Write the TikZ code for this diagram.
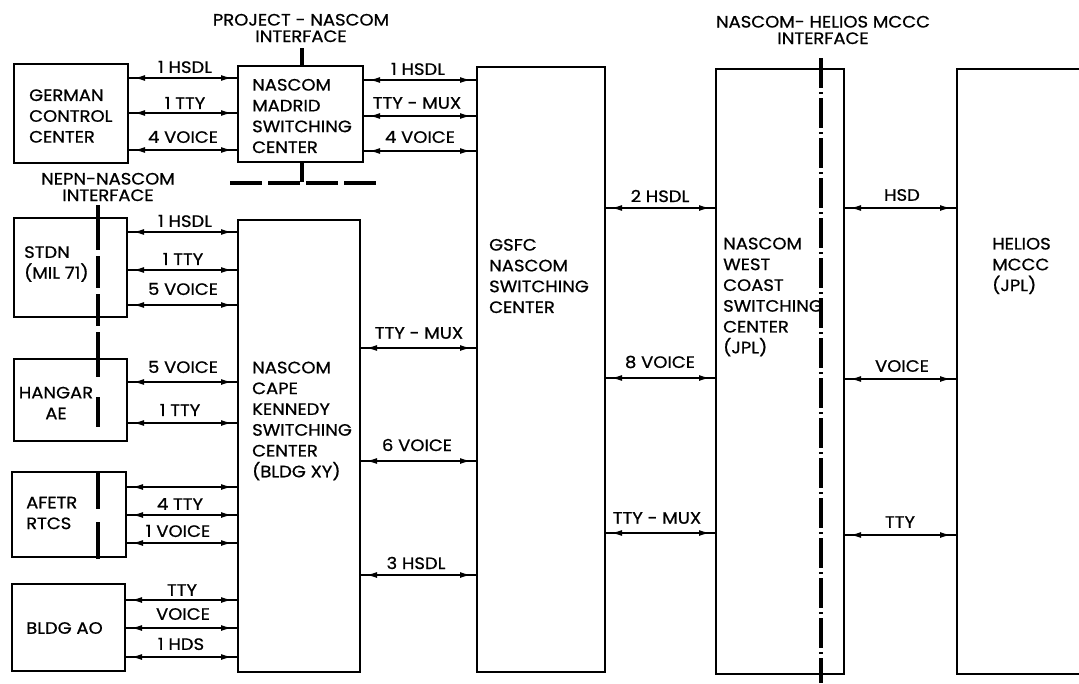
\documentclass[tikz,border=0pt]{standalone}
\usepackage{fontspec}
\setmainfont{Poppins}[FakeStretch=1.09,FakeBold=0.8]
\usetikzlibrary{arrows.meta,decorations.markings,fit}
\begin{document}
\begin{tikzpicture}[x=1pt,y=-1pt,
  box/.style={draw, line width=2.6pt, inner sep=0pt, outer sep=0pt},
  txt/.style={inner sep=0pt, align=left, font=\fontsize{16.5}{20.8}\selectfont},
  ctxt/.style={inner sep=0pt, align=center, font=\fontsize{16.5}{16.5}\selectfont},
  lbl/.style={inner sep=0pt, font=\fontsize{16.5}{18}\selectfont},
  conn/.style={line width=1.7pt, postaction={decorate}, decoration={markings,
     mark=at position 6pt with {\arrowreversed{Latex[length=11pt,width=6pt]}},
     mark=at position -6pt with {\arrow{Latex[length=11pt,width=6pt]}}}},
  iface/.style={line width=4pt},
]
\useasboundingbox (0,0) rectangle (1079,683);

% boxes
\node[box, fit={(14,64) (128,163)}] (G) {};
\node[box, fit={(238,66) (363,162)}] (M) {};
\node[box, fit={(14,218) (127,317)}] (S) {};
\node[box, fit={(14,359) (127,441)}] (H) {};
\node[box, fit={(12,472) (126,557)}] (A) {};
\node[box, fit={(12,584) (125,671)}] (B) {};
\node[box, fit={(238,220) (360,672)}] (K) {};
\node[box, fit={(477,67) (605,672)}] (F) {};
\node[box, fit={(716,69) (844,674)}] (W) {};
\node[box, fit={(957,69) (1083,674)}] (J) {};

% box texts
\node[txt, anchor=west] (Gt) at (29,116) {GERMAN\\CONTROL\\CENTER};
\node[txt, anchor=west] (Mt) at (252,116) {NASCOM\\MADRID\\SWITCHING\\CENTER};
\node[txt, anchor=west] (St) at (24,264) {STDN\\(MIL 71)};
\node[ctxt, font=\fontsize{16.5}{20.8}\selectfont] (Ht) at (56,403) {HANGAR\\AE};
\node[txt, anchor=west] (At) at (26,513) {AFETR\\RTCS};
\node[txt, anchor=west] (Bt) at (26,628) {BLDG AO};
\node[txt, anchor=west] (Kt) at (252,421) {NASCOM\\CAPE\\KENNEDY\\SWITCHING\\CENTER\\(BLDG XY)};
\node[txt, anchor=west] (Ft) at (489,276) {GSFC\\NASCOM\\SWITCHING\\CENTER};
\node[txt, anchor=west] (Wt) at (723,297) {NASCOM\\WEST\\COAST\\SWITCHING\\CENTER\\(JPL)};
\node[txt, anchor=west] (Jt) at (992,266) {HELIOS\\MCCC\\(JPL)};

% interface titles
\node[ctxt] (PT) at (301,28) {PROJECT - NASCOM\\INTERFACE};
\node[ctxt] (NT) at (108,187) {NEPN-NASCOM\\INTERFACE};
\node[ctxt] (HT) at (823,30) {NASCOM- HELIOS MCCC\\INTERFACE};

% interface lines
\coordinate (p1) at (302,48);
\coordinate (p2) at (302,182);
\coordinate (pd1) at (230,183);
\coordinate (pd2) at (378,183);
\draw[iface] (p1) -- (p1 |- M.north);
\draw[iface] (p2 |- M.south) -- (p2);
\draw[iface, dash pattern=on 32pt off 6pt] (pd1) -- (pd2);

\coordinate (n1) at (98,205);
\coordinate (n2) at (98,567);
\draw[iface] (n1) -- (n1 |- S.north);
\draw[iface, dash pattern=on 32pt off 6pt] (n1 |- S.north) -- (n1 |- H.north);
\draw[iface, dash pattern=on 18pt off 20pt on 30pt off 60pt] (n1 |- H.north) -- (n1 |- A.north);
\draw[iface, dash pattern=on 37pt off 13pt] (n1 |- A.north) -- (n2);

\coordinate (h1) at (821,58);
\coordinate (h2) at (821,683);
\draw[iface, dash pattern=on 30pt off 4pt on 2pt off 4pt] (h1) -- (h2);

% German - Madrid
\draw[conn] (G.east |- 0,78) -- (M.west |- 0,78);
\draw[conn] (G.east |- 0,113) -- (M.west |- 0,113);
\draw[conn] (G.east |- 0,150) -- (M.west |- 0,150);
\node[lbl] (l1) at (185,67) {1 HSDL};
\node[lbl] (l2) at (185,103) {1 TTY};
\node[lbl] (l3) at (183,137) {4 VOICE};

% Madrid - GSFC
\draw[conn] (M.east |- 0,80) -- (F.west |- 0,80);
\draw[conn] (M.east |- 0,116) -- (F.west |- 0,116);
\draw[conn] (M.east |- 0,151) -- (F.west |- 0,151);
\node[lbl] (l4) at (418,69) {1 HSDL};
\node[lbl] (l5) at (417,103) {TTY - MUX};
\node[lbl] (l6) at (420,137) {4 VOICE};

% STDN - Cape
\draw[conn] (S.east |- 0,232) -- (K.west |- 0,232);
\draw[conn] (S.east |- 0,270) -- (K.west |- 0,270);
\draw[conn] (S.east |- 0,305) -- (K.west |- 0,305);
\node[lbl] (l7) at (185,221) {1 HSDL};
\node[lbl] (l8) at (183,259) {1 TTY};
\node[lbl] (l9) at (183,289) {5 VOICE};

% Hangar - Cape
\draw[conn] (H.east |- 0,382) -- (K.west |- 0,382);
\draw[conn] (H.east |- 0,423) -- (K.west |- 0,423);
\node[lbl] (l10) at (183,367) {5 VOICE};
\node[lbl] (l11) at (180,410) {1 TTY};

% AFETR - Cape
\draw[conn] (A.east |- 0,487) -- (K.west |- 0,487);
\draw[conn] (A.east |- 0,515) -- (K.west |- 0,515);
\draw[conn] (A.east |- 0,543) -- (K.west |- 0,543);
\node[lbl] (l12) at (180,504) {4 TTY};
\node[lbl] (l13) at (178,531) {1 VOICE};

% BLDG AO - Cape
\draw[conn] (B.east |- 0,600) -- (K.west |- 0,600);
\draw[conn] (B.east |- 0,628) -- (K.west |- 0,628);
\draw[conn] (B.east |- 0,657) -- (K.west |- 0,657);
\node[lbl] (l14) at (182,590) {TTY};
\node[lbl] (l15) at (183,614) {VOICE};
\node[lbl] (l16) at (181,644) {1 HDS};

% Cape - GSFC
\draw[conn] (K.east |- 0,348) -- (F.west |- 0,348);
\draw[conn] (K.east |- 0,461) -- (F.west |- 0,461);
\draw[conn] (K.east |- 0,575) -- (F.west |- 0,575);
\node[lbl] (l17) at (419,333) {TTY - MUX};
\node[lbl] (l18) at (417,445) {6 VOICE};
\node[lbl] (l19) at (416,563) {3 HSDL};

% GSFC - West Coast
\draw[conn] (F.east |- 0,208) -- (W.west |- 0,208);
\draw[conn] (F.east |- 0,378) -- (W.west |- 0,378);
\draw[conn] (F.east |- 0,533) -- (W.west |- 0,533);
\node[lbl] (l20) at (660,196) {2 HSDL};
\node[lbl] (l21) at (660,362) {8 VOICE};
\node[lbl] (l22) at (657,518) {TTY - MUX};

% West Coast - Helios
\draw[conn] (W.east |- 0,208) -- (J.west |- 0,208);
\draw[conn] (W.east |- 0,379) -- (J.west |- 0,379);
\draw[conn] (W.east |- 0,535) -- (J.west |- 0,535);
\node[lbl] (l23) at (902,195) {HSD};
\node[lbl] (l24) at (902,366) {VOICE};
\node[lbl] (l25) at (900,522) {TTY};
\end{tikzpicture}
\end{document}
